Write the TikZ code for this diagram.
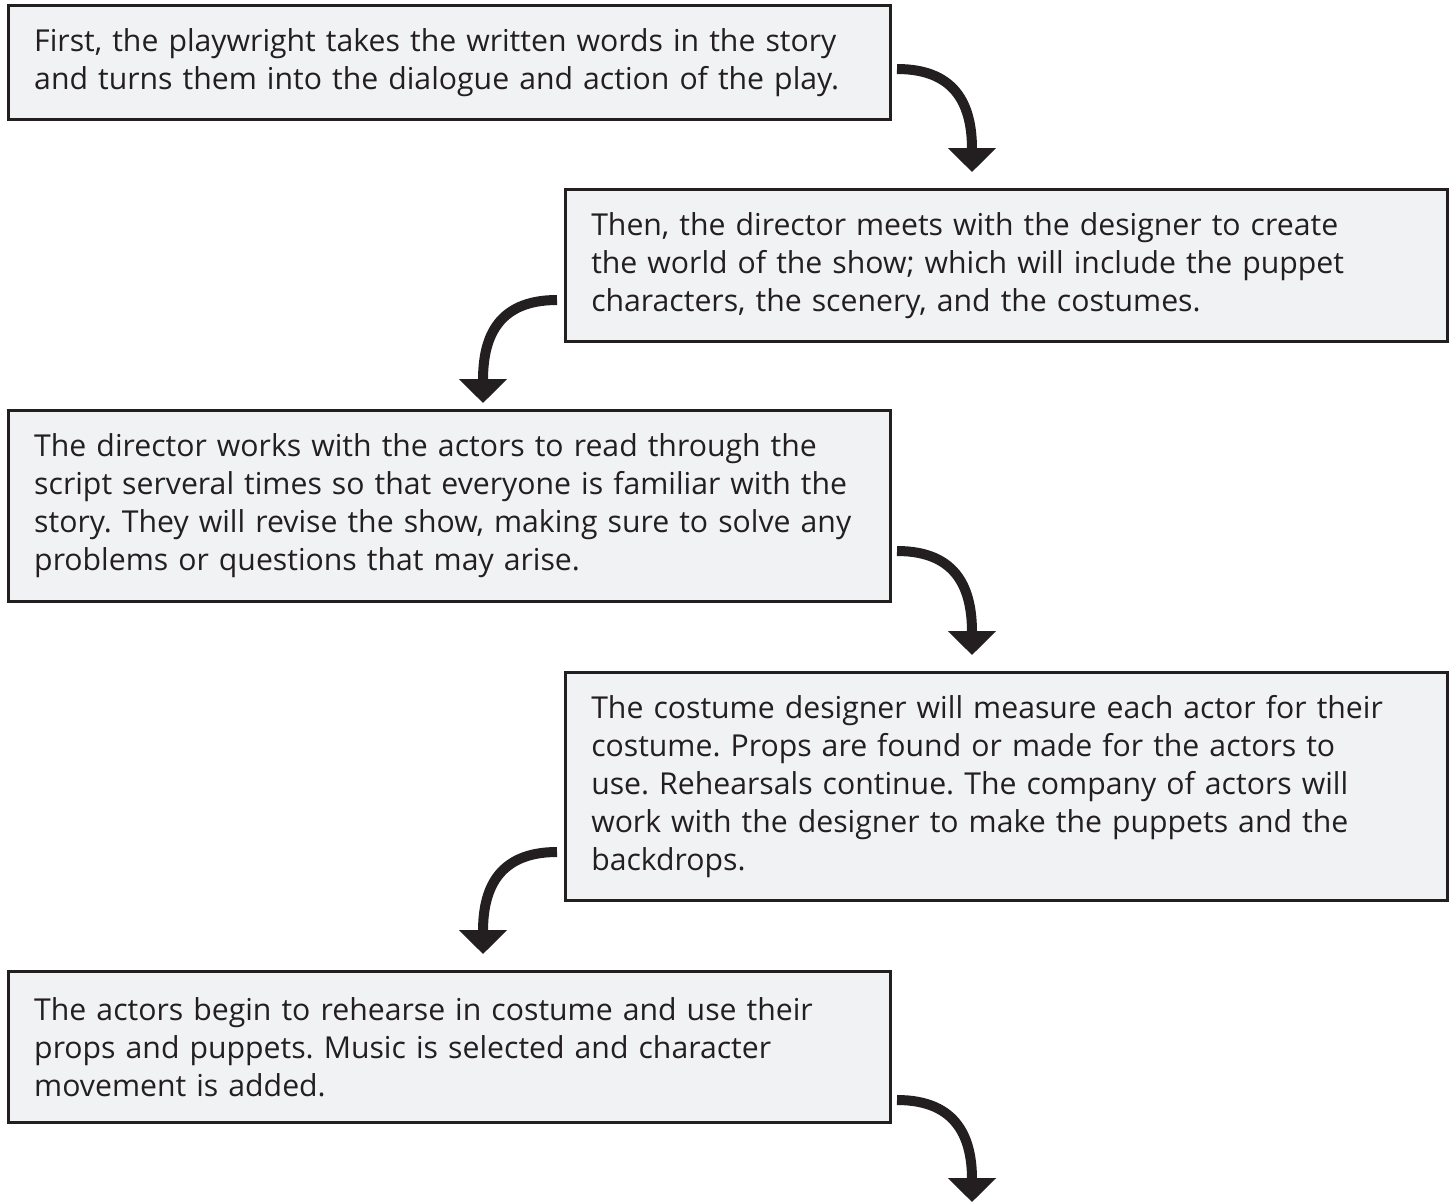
\documentclass[tikz,border=0pt]{standalone}
\usepackage{fontspec}
\setmainfont{Open Sans}
\usetikzlibrary{arrows.meta}
\definecolor{ink}{HTML}{231F20}
\definecolor{boxfill}{HTML}{F1F2F4}
\frenchspacing
\tikzset{
  stepbox/.style={draw=ink, line width=2.5pt, fill=boxfill, rectangle, anchor=north west,
    inner xsep=26pt, inner ysep=0pt, text width=830pt, align=left, text=ink,
    font=\fontsize{30.2}{38}\selectfont},
  flow/.style={draw=ink, line width=10pt, -{Triangle[width=47pt,length=24pt]}, ink, looseness=1.25}
}
\begin{document}
\begin{tikzpicture}[x=1pt,y=1pt]
\useasboundingbox (0,0) rectangle (1453,-1202);
\node[stepbox, minimum height=114pt] (b1) at (7,-4) {First, the playwright takes the written words in the story\\and turns them into the dialogue and action of the play.\\[-6pt]};
\node[stepbox, minimum height=152pt] (b2) at (564,-188) {Then, the director meets with the designer to create\\the world of the show; which will include the puppet\\characters, the scenery, and the costumes.\\[-6pt]};
\node[stepbox, minimum height=191pt] (b3) at (7,-409) {The director works with the actors to read through the\\script serveral times so that everyone is familiar with the\\story. They will revise the show, making sure to solve any\\problems or questions that may arise.\\[-6pt]};
\node[stepbox, minimum height=228pt] (b4) at (564,-671) {The costume designer will measure each actor for their\\costume. Props are found or made for the actors to\\use. Rehearsals continue. The company of actors will\\work with the designer to make the puppets and the\\backdrops.\\[-6pt]};
\node[stepbox, minimum height=151pt] (b5) at (7,-970) {The actors begin to rehearse in costume and use their\\props and puppets. Music is selected and character\\movement is added.\\[-6pt]};
\coordinate (a1s) at (897,-69);
\coordinate (a1e) at (972,-172);
\coordinate (a2s) at (557,-300);
\coordinate (a2e) at (483,-403);
\coordinate (a3s) at (897,-551);
\coordinate (a3e) at (972,-655);
\coordinate (a4s) at (557,-852);
\coordinate (a4e) at (483,-954);
\coordinate (a5s) at (897,-1100);
\coordinate (a5e) at (972,-1202);
\draw[flow] (a1s) to[out=0,in=90] (a1e);
\draw[flow] (a2s) to[out=180,in=90] (a2e);
\draw[flow] (a3s) to[out=0,in=90] (a3e);
\draw[flow] (a4s) to[out=180,in=90] (a4e);
\draw[flow] (a5s) to[out=0,in=90] (a5e);
\end{tikzpicture}
\end{document}
